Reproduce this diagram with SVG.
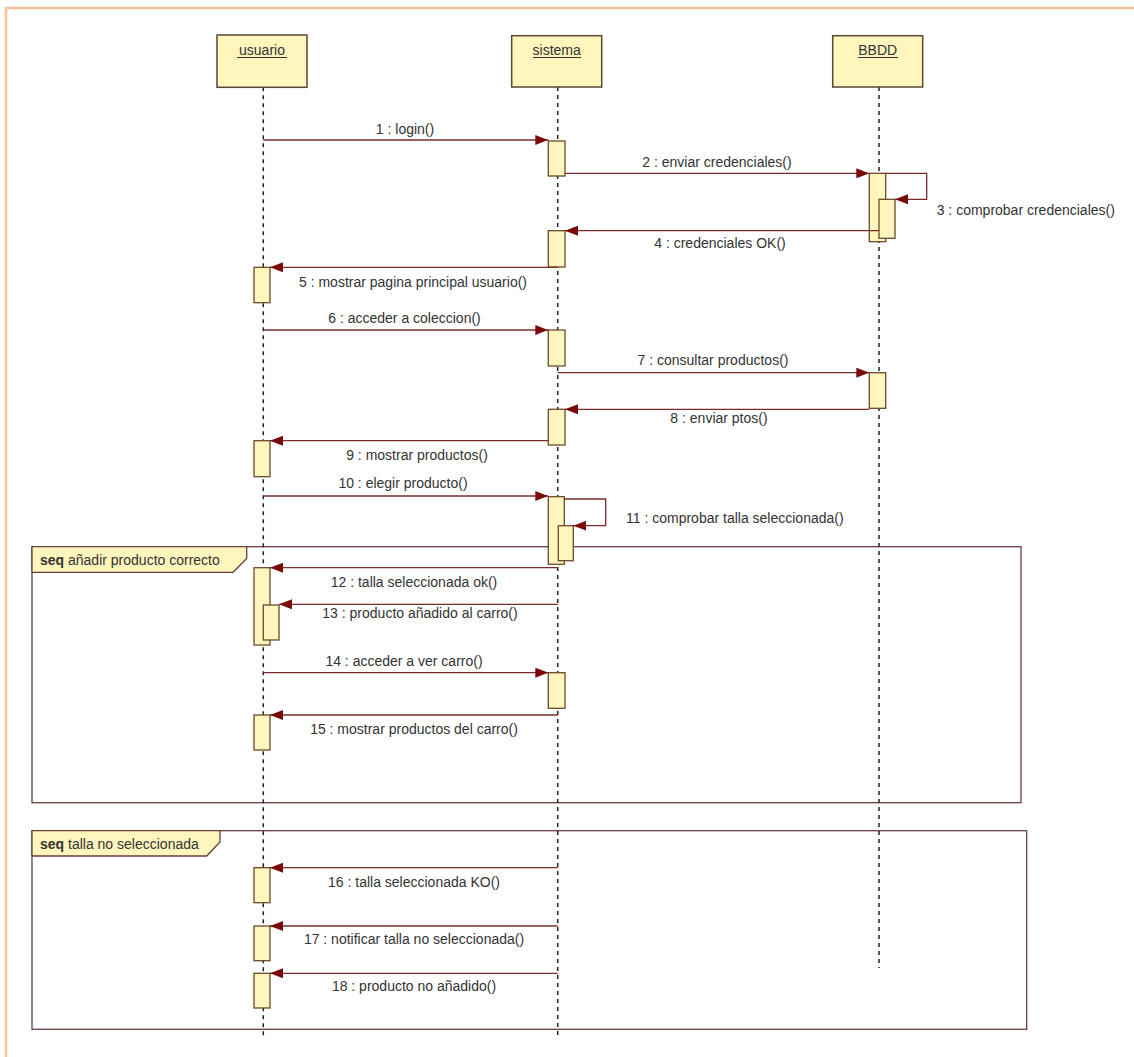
<svg xmlns="http://www.w3.org/2000/svg" width="1134" height="1057" viewBox="0 0 1134 1057">
<defs>
<style>
text{font-family:"Liberation Sans",Arial,sans-serif;font-size:14px;fill:#333}
.c{text-anchor:middle}
.head{fill:#fff6bd;stroke:#5a4632;stroke-width:1.5}
.life{stroke:#222;stroke-width:1.5;stroke-dasharray:4 4;fill:none}
.act{fill:#fff6bd;stroke:#6b4a2a;stroke-width:1.3}
.msg{stroke:#7a2b2b;stroke-width:1.3;fill:none}
.frame{fill:none;stroke:#6b3d3d;stroke-width:1.3}
.tab{fill:#fff6bd;stroke:#6b3d3d;stroke-width:1.3}
</style>
<marker id="ah" markerWidth="13" markerHeight="10" refX="13" refY="5" orient="auto" markerUnits="userSpaceOnUse">
<path d="M0,0 L13,5 L0,10 Z" fill="#7a0a0a"/>
</marker>
</defs>
<rect x="6" y="8" width="1140" height="1060" fill="#fff" stroke="#f8c39a" stroke-width="2.5"/>

<g id="frames">
<g id="frame1">
<rect class="frame" x="32" y="546.7" width="989" height="256"/>
<path class="tab" d="M32,546.7 H246.7 V558.5 L233,572.3 H32 Z"/>
<text x="40" y="565"><tspan font-weight="bold">seq</tspan> añadir producto correcto</text>
</g>
<g id="frame2">
<rect class="frame" x="32" y="830.7" width="994.7" height="198.6"/>
<path class="tab" d="M32,830.7 H220 V842 L206.7,856 H32 Z"/>
<text x="40" y="849"><tspan font-weight="bold">seq</tspan> talla no seleccionada</text>
</g>
</g>

<g id="usuario">
<line class="life" x1="263.3" y1="87.3" x2="263.3" y2="1038"/>
<rect class="head" x="217" y="35" width="90" height="52.3"/>
<text class="c" x="262" y="55">usuario</text>
<line x1="237" y1="57.5" x2="287" y2="57.5" stroke="#333" stroke-width="1"/>
<rect class="act" x="254" y="267.3" width="16" height="35.4"/>
<rect class="act" x="254" y="440.7" width="16" height="36"/>
<rect class="act" x="254" y="567.7" width="16" height="77.3"/>
<rect class="act" x="263.3" y="605" width="15.7" height="35"/>
<rect class="act" x="254" y="715" width="16" height="35"/>
<rect class="act" x="254" y="867.7" width="16" height="35"/>
<rect class="act" x="254" y="926" width="16" height="34.7"/>
<rect class="act" x="254" y="973.3" width="16" height="34.7"/>
</g>

<g id="sistema">
<line class="life" x1="557.7" y1="87" x2="557.7" y2="1038"/>
<rect class="head" x="511.7" y="35.7" width="90" height="51.3"/>
<text class="c" x="556.7" y="55">sistema</text>
<line x1="533" y1="57.5" x2="581" y2="57.5" stroke="#333" stroke-width="1"/>
<rect class="act" x="548.3" y="141" width="16.7" height="35"/>
<rect class="act" x="548.3" y="230.7" width="16.7" height="36.3"/>
<rect class="act" x="548.3" y="330" width="16.7" height="36"/>
<rect class="act" x="548.3" y="409.3" width="16.7" height="35.7"/>
<rect class="act" x="548.3" y="496.7" width="16" height="67.6"/>
<rect class="act" x="558.3" y="525.7" width="15" height="35"/>
<rect class="act" x="548.3" y="672.7" width="16.7" height="35.6"/>
</g>

<g id="BBDD">
<line class="life" x1="879" y1="87" x2="879" y2="968"/>
<rect class="head" x="832.7" y="35.7" width="90" height="51.3"/>
<text class="c" x="877.7" y="55">BBDD</text>
<line x1="858" y1="57.5" x2="898" y2="57.5" stroke="#333" stroke-width="1"/>
<rect class="act" x="869.3" y="173.3" width="16.4" height="68.4"/>
<rect class="act" x="879" y="199.3" width="16" height="39"/>
<rect class="act" x="869.3" y="372.7" width="16.4" height="35.6"/>
</g>

<g id="connectors">
<line class="msg" x1="263.3" y1="140" x2="548.3" y2="140" marker-end="url(#ah)"/>
<line class="msg" x1="565" y1="173.3" x2="869.3" y2="173.3" marker-end="url(#ah)"/>
<polyline class="msg" points="885.7,173.3 926.7,173.3 926.7,199.3 895,199.3" marker-end="url(#ah)"/>
<line class="msg" x1="879" y1="230.7" x2="565" y2="230.7" marker-end="url(#ah)"/>
<line class="msg" x1="557.7" y1="267.3" x2="270" y2="267.3" marker-end="url(#ah)"/>
<line class="msg" x1="263.3" y1="330" x2="548.3" y2="330" marker-end="url(#ah)"/>
<line class="msg" x1="557.7" y1="372.7" x2="869.3" y2="372.7" marker-end="url(#ah)"/>
<line class="msg" x1="869.3" y1="409.3" x2="565" y2="409.3" marker-end="url(#ah)"/>
<line class="msg" x1="548.3" y1="440.7" x2="270" y2="440.7" marker-end="url(#ah)"/>
<line class="msg" x1="263.3" y1="496" x2="548.3" y2="496" marker-end="url(#ah)"/>
<polyline class="msg" points="564.3,499 605.7,499 605.7,525.7 573.3,525.7" marker-end="url(#ah)"/>
<line class="msg" x1="557.7" y1="567.7" x2="270" y2="567.7" marker-end="url(#ah)"/>
<line class="msg" x1="557.7" y1="604.3" x2="279" y2="604.3" marker-end="url(#ah)"/>
<line class="msg" x1="263.3" y1="672.7" x2="548.3" y2="672.7" marker-end="url(#ah)"/>
<line class="msg" x1="557.7" y1="715" x2="270" y2="715" marker-end="url(#ah)"/>
<line class="msg" x1="557.7" y1="867.7" x2="270" y2="867.7" marker-end="url(#ah)"/>
<line class="msg" x1="557.7" y1="926" x2="270" y2="926" marker-end="url(#ah)"/>
<line class="msg" x1="557.7" y1="973.3" x2="270" y2="973.3" marker-end="url(#ah)"/>

<text class="c" x="405" y="134">1 : login()</text>
<text class="c" x="717" y="167">2 : enviar credenciales()</text>
<text x="936.7" y="215">3 : comprobar credenciales()</text>
<text class="c" x="720" y="248">4 : credenciales OK()</text>
<text class="c" x="413" y="286.5">5 : mostrar pagina principal usuario()</text>
<text class="c" x="404.5" y="323">6 : acceder a coleccion()</text>
<text class="c" x="713" y="365">7 : consultar productos()</text>
<text class="c" x="719" y="423">8 : enviar ptos()</text>
<text class="c" x="417" y="460">9 : mostrar productos()</text>
<text class="c" x="403" y="488">10 : elegir producto()</text>
<text x="626" y="523">11 : comprobar talla seleccionada()</text>
<text class="c" x="414" y="586.5">12 : talla seleccionada ok()</text>
<text class="c" x="420" y="617.5">13 : producto añadido al carro()</text>
<text class="c" x="404" y="666">14 : acceder a ver carro()</text>
<text class="c" x="414" y="734">15 : mostrar productos del carro()</text>
<text class="c" x="414" y="886.7">16 : talla seleccionada KO()</text>
<text class="c" x="414" y="944">17 : notificar talla no seleccionada()</text>
<text class="c" x="414" y="990.7">18 : producto no añadido()</text>
</g>
</svg>
